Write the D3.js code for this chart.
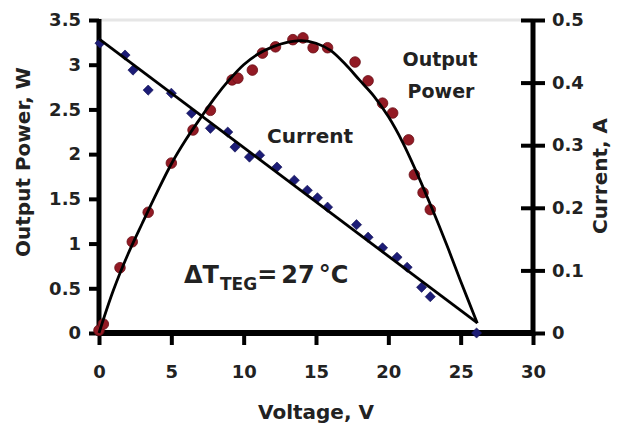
<!DOCTYPE html>
<html>
<head>
<meta charset="utf-8">
<script src="https://cdn.jsdelivr.net/npm/d3@7"></script>
<style>
  html, body { margin: 0; padding: 0; background: #fff; }
  text { font-family: "DejaVu Sans", sans-serif; font-weight: bold; fill: #222; }
</style>
</head>
<body>
<svg id="chart" width="617" height="428"></svg>
<script>
// ---- Data ----
const powerV = [0, 0.3, 1.45, 2.3, 3.4, 5.0, 6.5, 7.7, 9.2, 9.6, 10.6, 11.3, 12.2, 13.4, 14.1, 14.8, 15.8, 17.7, 18.6, 19.6, 20.3, 21.4, 21.8, 22.4, 22.9];
const powerW = [0.03, 0.1, 0.73, 1.02, 1.35, 1.90, 2.27, 2.49, 2.83, 2.85, 2.94, 3.13, 3.20, 3.28, 3.30, 3.19, 3.19, 3.03, 2.82, 2.57, 2.46, 2.16, 1.77, 1.57, 1.38];

const currentV = [0.07, 1.8, 2.35, 3.4, 5.0, 6.4, 7.7, 8.9, 9.4, 10.4, 11.1, 12.3, 13.5, 14.4, 15.1, 15.8, 17.8, 18.6, 19.6, 20.6, 21.3, 22.3, 22.9, 26.1];
const currentA = [0.463, 0.444, 0.420, 0.388, 0.383, 0.351, 0.327, 0.321, 0.297, 0.281, 0.284, 0.265, 0.244, 0.228, 0.216, 0.201, 0.173, 0.153, 0.136, 0.121, 0.105, 0.073, 0.058, 0.0];

const fitPowerV = [0, 1, 2, 3, 4, 5, 6, 7, 8, 9, 10, 11, 12, 13, 14, 15, 16, 17, 18, 19, 20, 21, 22, 23, 24, 25, 26.15];
const fitPowerW = [0, 0.48, 0.88, 1.23, 1.57, 1.89, 2.16, 2.40, 2.63, 2.83, 3.0, 3.12, 3.2, 3.25, 3.27, 3.24, 3.16, 3.01, 2.83, 2.65, 2.42, 2.13, 1.78, 1.40, 1.0, 0.58, 0.11];

const fitCurrentV = [0, 26.15];
const fitCurrentA = [0.470, 0.016];

const xTicks = [0, 5, 10, 15, 20, 25, 30];
const powerTicks = [0, 0.5, 1, 1.5, 2, 2.5, 3, 3.5];
const currentTicks = [0, 0.1, 0.2, 0.3, 0.4, 0.5];

// ---- Layout ----
const svg = d3.select("#chart");
const x = d3.scaleLinear().domain([0, 30]).range([99, 533]);
const yP = d3.scaleLinear().domain([0, 3.5]).range([333, 20]);
const yI = d3.scaleLinear().domain([0, 0.5]).range([333, 20]);

// faint top border
svg.append("line")
  .attr("x1", x(0)).attr("x2", x(30))
  .attr("y1", yP(3.5)).attr("y2", yP(3.5))
  .attr("stroke", "#e6e6e6").attr("stroke-width", 3);

// ---- Axes ----
function styleAxis(g) {
  g.select(".domain").remove();
  g.selectAll(".tick line").attr("stroke", "#000").attr("stroke-width", 4);
  g.selectAll(".tick text")
    .attr("fill", "#222")
    .style("font-family", '"DejaVu Sans", sans-serif')
    .style("font-weight", "bold").style("font-size", "18px");
}

const gx = svg.append("g").attr("transform", `translate(0,${yP(0)})`)
  .call(d3.axisBottom(x).tickValues(xTicks).tickFormat(d3.format("d")).tickSizeInner(12).tickSizeOuter(0).tickPadding(20));
styleAxis(gx);

const gl = svg.append("g").attr("transform", `translate(${x(0)},0)`)
  .call(d3.axisLeft(yP).tickValues(powerTicks).tickFormat(d => String(d)).tickSizeInner(10).tickSizeOuter(0).tickPadding(8));
styleAxis(gl);

const gr = svg.append("g").attr("transform", `translate(${x(30)},0)`)
  .call(d3.axisRight(yI).tickValues(currentTicks).tickFormat(d => d === 0 ? "0" : d3.format(".1f")(d)).tickSizeInner(12).tickSizeOuter(0).tickPadding(7));
styleAxis(gr);
gr.selectAll(".tick line").attr("x1", -12).attr("x2", 12);

// axis lines (thick)
svg.append("line").attr("x1", x(0)).attr("x2", x(0)).attr("y1", yP(3.5) - 1).attr("y2", yP(0) + 3)
  .attr("stroke", "#000").attr("stroke-width", 5);
svg.append("line").attr("x1", x(30)).attr("x2", x(30)).attr("y1", yI(0.5) - 1).attr("y2", yI(0) + 3)
  .attr("stroke", "#000").attr("stroke-width", 5);
svg.append("line").attr("x1", x(0) - 2).attr("x2", x(30) + 2).attr("y1", yP(0)).attr("y2", yP(0))
  .attr("stroke", "#000").attr("stroke-width", 6);

// ---- Points ----
const pData = powerV.map((v, i) => ({ v, p: powerW[i] }));
const iData = currentV.map((v, i) => ({ v, a: currentA[i] }));

svg.append("g").selectAll("circle").data(pData).join("circle")
  .attr("cx", d => x(d.v)).attr("cy", d => yP(d.p)).attr("r", 5.3)
  .attr("fill", "#921a24").attr("stroke", "#6a0f17").attr("stroke-width", 0.8);

svg.append("g").selectAll("path").data(iData).join("path")
  .attr("d", d3.symbol(d3.symbolSquare, 52))
  .attr("transform", d => `translate(${x(d.v)},${yI(d.a)}) rotate(45)`)
  .attr("fill", "#1c1c76").attr("stroke", "#141456").attr("stroke-width", 0.6);

// ---- Fit lines ----
const fp = fitPowerV.map((v, i) => [x(v), yP(fitPowerW[i])]);
svg.append("path")
  .attr("d", d3.line().curve(d3.curveCatmullRom)(fp))
  .attr("fill", "none").attr("stroke", "#000").attr("stroke-width", 2.8);

const fi = fitCurrentV.map((v, i) => [x(v), yI(fitCurrentA[i])]);
svg.append("path")
  .attr("d", d3.line()(fi))
  .attr("fill", "none").attr("stroke", "#000").attr("stroke-width", 2.8);

// ---- Axis titles ----
svg.append("text").attr("transform", "translate(30,162) rotate(-90)")
  .attr("text-anchor", "middle").style("font-size", "20px").text("Output Power, W");
svg.append("text").attr("transform", "translate(607,176) rotate(-90)")
  .attr("text-anchor", "middle").style("font-size", "20px").text("Current, A");
svg.append("text").attr("x", 316).attr("y", 419)
  .attr("text-anchor", "middle").style("font-size", "20px").text("Voltage, V");

// ---- Annotations ----
svg.append("text").attr("x", 440).attr("y", 66).attr("text-anchor", "middle").style("font-size", "19px").text("Output");
svg.append("text").attr("x", 441).attr("y", 98).attr("text-anchor", "middle").style("font-size", "19px").text("Power");
svg.append("text").attr("x", 310).attr("y", 143).attr("text-anchor", "middle").style("font-size", "20px").text("Current");

const dt = svg.append("text").attr("x", 184).attr("y", 283).style("font-size", "24px");
dt.append("tspan").text("ΔT");
dt.append("tspan").attr("dx", 1).attr("dy", 7).style("font-size", "17px").text("TEG");
dt.append("tspan").attr("dy", -7).text("=");
dt.append("tspan").attr("dx", 4).text("27");
dt.append("tspan").attr("dx", 4).text("°C");
</script>
</body>
</html>
